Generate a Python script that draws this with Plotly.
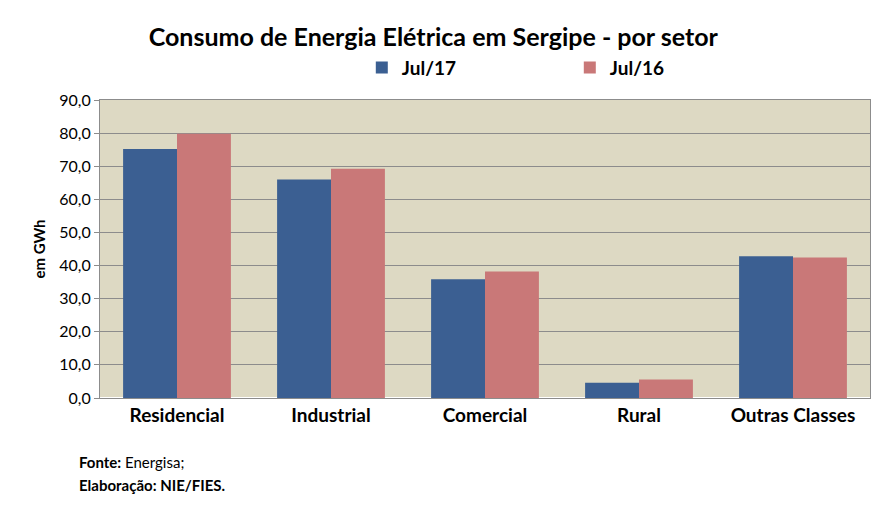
import plotly.graph_objects as go

setores = ["Residencial", "Industrial", "Comercial", "Rural", "Outras Classes"]
jul17 = [75.2, 66.0, 35.9, 4.6, 42.8]
jul16 = [79.8, 69.2, 38.2, 5.6, 42.4]
yticks = [0, 10, 20, 30, 40, 50, 60, 70, 80, 90]
ytext = ["0,0", "10,0", "20,0", "30,0", "40,0", "50,0", "60,0", "70,0", "80,0", "90,0"]

fig = go.Figure()
fig.add_trace(go.Bar(x=setores, y=jul17, name="<b>Jul/17</b>",
                     marker=dict(color="#3B5F92", line=dict(width=0))))
fig.add_trace(go.Bar(x=setores, y=jul16, name="<b>Jul/16</b>",
                     marker=dict(color="#C97878", line=dict(width=0))))

fig.update_layout(
    width=886, height=524,
    paper_bgcolor="white", plot_bgcolor="#DDD9C3",
    font=dict(family="Lato", color="black"),
    title=dict(text="<b>Consumo de Energia Elétrica em Sergipe - por setor</b>",
               x=0.48, xanchor="center", y=0.945, yanchor="middle", font=dict(size=25)),
    legend=dict(orientation="h", x=0.34, y=1.045, xanchor="left", yanchor="bottom",
                font=dict(size=19), entrywidth=163),
    bargap=0.3, bargroupgap=0,
    margin=dict(l=92, r=24, t=92, b=134),
    showlegend=True,
)
fig.update_yaxes(range=[0, 90], tickvals=yticks, ticktext=ytext,
                 showgrid=True, gridcolor="#8C8C8C", gridwidth=1,
                 showline=True, linecolor="#8C8C8C", mirror=True,
                 ticks="outside", ticklen=5, tickcolor="#8C8C8C",
                 tickfont=dict(size=16),
                 title=dict(text="<b>em GWh</b>", font=dict(size=15), standoff=10))
fig.update_xaxes(showline=True, linecolor="#8C8C8C", mirror=True,
                 tickfont=dict(size=19, family="Lato"),
                 ticktext=["<b>" + s + "</b>" for s in setores], tickvals=setores,
                 ticks="outside", ticklen=0)

fig.add_annotation(xref="paper", yref="paper", x=-0.03, y=-0.25, xanchor="left",
                   text="<b>Fonte:</b> Energisa;", showarrow=False, font=dict(size=15))
fig.add_annotation(xref="paper", yref="paper", x=-0.03, y=-0.33, xanchor="left",
                   text="<b>Elaboração: NIE/FIES.</b>", showarrow=False, font=dict(size=15))

fig.write_html("out.html")
